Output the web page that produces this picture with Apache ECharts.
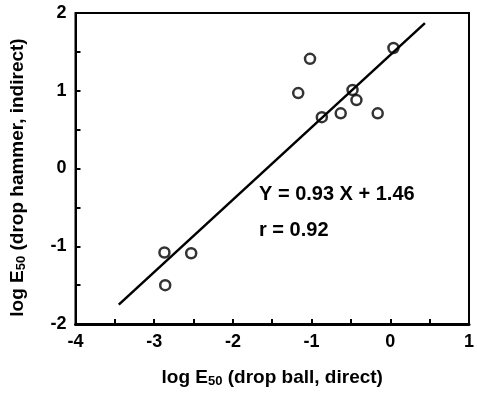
<!DOCTYPE html>
<html>
<head>
<meta charset="utf-8">
<script src="https://cdn.jsdelivr.net/npm/echarts@6/dist/echarts.min.js"></script>
<style>
  html, body { margin: 0; padding: 0; background: #fff; }
  #main { width: 477px; height: 393px; }
</style>
</head>
<body>
<div id="main"></div>
<script>
// measured points: log E50 drop ball (x) vs drop hammer (y)
var dropBall =   [-1.02, -1.17, 0.04, -0.48, -0.43, -0.63, -0.16, -0.87, -2.87, -2.53, -2.86];
var dropHammer = [ 1.41,  0.97, 1.55,  1.01,  0.88,  0.71,  0.71,  0.66, -1.08, -1.09, -1.50];
// regression line ends as drawn
var fitX = [-3.45, 0.44];
var fitY = [-1.75, 1.87];
var eqText = 'Y = 0.93 X + 1.46';
var rText = 'r = 0.92';

var font = 'Liberation Sans, Arial, sans-serif';
var chart = echarts.init(document.getElementById('main'));

var pts = dropBall.map(function (x, i) { return [x, dropHammer[i]]; });
var fit = fitX.map(function (x, i) { return [x, fitY[i]]; });

function intOnly(v) {
  return Math.abs(v - Math.round(v)) < 1e-6 ? String(Math.round(v)) : '';
}

var nameRich = {
  b: { fontFamily: font, fontWeight: 'bold', fontSize: 19, color: '#000' },
  s: { fontFamily: font, fontWeight: 'bold', fontSize: 13, color: '#000', padding: [7, 0, 0, 0] }
};

chart.setOption({
  animation: false,
  grid: {
    left: 72, right: 3, top: 13, bottom: 68,
    show: true, borderColor: '#000', borderWidth: 2
  },
  xAxis: {
    type: 'value', min: -4, max: 1, interval: 0.5,
    name: '{b|log E}{s|50}{b| (drop ball, direct)}',
    nameLocation: 'middle', nameGap: 44,
    nameTextStyle: { rich: nameRich },
    axisLine: { onZero: false, lineStyle: { color: '#000', width: 3 } },
    axisTick: { inside: true, length: 5, lineStyle: { color: '#000', width: 2 } },
    axisLabel: {
      formatter: intOnly, margin: 9,
      fontFamily: font, fontWeight: 'bold', fontSize: 18, color: '#000'
    },
    splitLine: { show: false }
  },
  yAxis: {
    type: 'value', min: -2, max: 2, interval: 0.5,
    name: '{b|log E}{s|50}{b| (drop hammer, indirect)}',
    nameLocation: 'middle', nameGap: 48,
    nameTextStyle: { rich: nameRich, padding: [0, 0, 0, -18] },
    axisLine: { onZero: false, lineStyle: { color: '#000', width: 2 } },
    axisTick: { inside: true, length: 5, lineStyle: { color: '#000', width: 2 } },
    axisLabel: {
      formatter: intOnly, margin: 9,
      fontFamily: font, fontWeight: 'bold', fontSize: 18, color: '#000'
    },
    splitLine: { show: false }
  },
  series: [
    {
      type: 'line', data: fit, symbol: 'none',
      lineStyle: { color: '#000', width: 2.5 }
    },
    {
      type: 'scatter', data: pts, symbol: 'circle', symbolSize: 10,
      itemStyle: { color: '#fff', borderColor: '#000', borderWidth: 2.5 }
    }
  ],
  graphic: [
    { type: 'text', left: 259, top: 184,
      style: { text: eqText, font: 'bold 20px ' + font, fill: '#000' } },
    { type: 'text', left: 259, top: 220,
      style: { text: rText, font: 'bold 20px ' + font, fill: '#000' } }
  ]
});
</script>
</body>
</html>
